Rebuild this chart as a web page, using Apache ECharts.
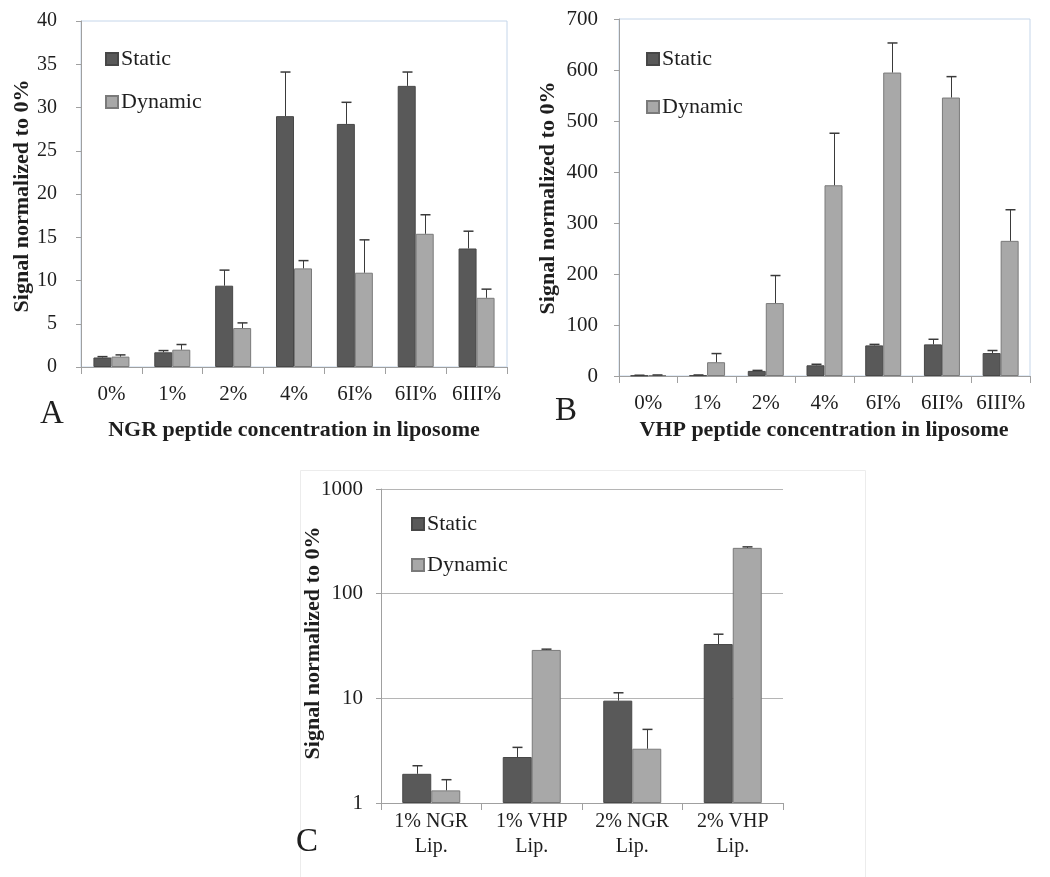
<!DOCTYPE html>
<html>
<head>
<meta charset="utf-8">
<script src="https://cdn.jsdelivr.net/npm/echarts@6/dist/echarts.min.js"></script>
<style>
html,body{margin:0;padding:0;background:#fff;}
#c{width:1050px;height:877px;}
</style>
</head>
<body>
<div id="c"></div>
<script>
// ---- Panel A: NGR ----
const catsA = ['0%', '1%', '2%', '4%', '6I%', '6II%', '6III%'];
const ngrStatic = [1.1, 1.7, 9.4, 29.0, 28.1, 32.5, 13.7];
const ngrStaticErr = [0.1, 0.2, 1.8, 5.1, 2.5, 1.6, 2.0];
const ngrDynamic = [1.2, 2.0, 4.5, 11.4, 10.9, 15.4, 8.0];
const ngrDynamicErr = [0.2, 0.6, 0.6, 0.9, 3.8, 2.2, 1.0];

// ---- Panel B: VHP ----
const catsB = ['0%', '1%', '2%', '4%', '6I%', '6II%', '6III%'];
const vhpStatic = [1, 1.5, 10, 21, 60, 62, 45];
const vhpStaticErr = [0.5, 0.5, 1, 2, 2, 10, 5];
const vhpDynamic = [1.5, 27, 143, 374, 595, 546, 265];
const vhpDynamicErr = [0.5, 17, 54, 102, 58, 41, 61];

// ---- Panel C: comparison (log) ----
const catsC = ['1% NGR\nLip.', '1% VHP\nLip.', '2% NGR\nLip.', '2% VHP\nLip.'];
const cmpStatic = [1.9, 2.75, 9.5, 33];
const cmpStaticErr = [0.37, 0.65, 1.8, 8];
const cmpDynamic = [1.32, 29, 3.3, 274];
const cmpDynamicErr = [0.35, 0.5, 1.75, 6];

const FONT = "'Liberation Serif', 'Times New Roman', serif";
const STATIC_COLOR = '#595959';
const DYN_COLOR = '#a8a8a8';
const AXIS_COLOR = '#a0a0a0';
const TXT = '#1e1e1e';

function barSeries(name, gi, vals, color, border, w) {
  return {
    name: name, type: 'bar', xAxisIndex: gi, yAxisIndex: gi,
    data: vals, barWidth: w, barGap: '0%',
    itemStyle: { color: color, borderColor: border, borderWidth: 1 },
    emphasis: { disabled: true }, silent: true, z: 2
  };
}
function errSeries(gi, cats, vals, errs, offset) {
  return {
    name: 'err', type: 'custom', xAxisIndex: gi, yAxisIndex: gi, z: 5, silent: true,
    data: cats.map((c, i) => [i, vals[i], errs[i]]),
    encode: { x: 0, y: 1 },
    renderItem: function (params, api) {
      const i = api.value(0), v = api.value(1), e = api.value(2);
      const p0 = api.coord([i, v]);
      const p1 = api.coord([i, v + e]);
      const x = Math.round(p0[0] + offset) + 0.5;
      return {
        type: 'group', children: [
          { type: 'line', shape: { x1: x, y1: p0[1], x2: x, y2: p1[1] }, style: { stroke: '#3a3a3a', lineWidth: 1 } },
          { type: 'line', shape: { x1: x - 5, y1: p1[1], x2: x + 5, y2: p1[1] }, style: { stroke: '#3a3a3a', lineWidth: 1.5 } }
        ]
      };
    }
  };
}
function catAxis(gi, cats, fs, margin) {
  return {
    type: 'category', gridIndex: gi, data: cats,
    axisLine: { lineStyle: { color: AXIS_COLOR, width: 1 } },
    axisTick: { show: true, length: 7, lineStyle: { color: AXIS_COLOR } },
    axisLabel: { fontFamily: FONT, fontSize: fs, color: TXT, margin: margin, interval: 0, lineHeight: 25 }
  };
}
function legendAt(left, top, gap) {
  return {
    left: left, top: top, orient: 'vertical', itemGap: gap,
    itemWidth: 12, itemHeight: 12, icon: 'rect', selectedMode: false,
    data: ['Static', 'Dynamic'],
    textStyle: { fontFamily: FONT, fontSize: 22, color: TXT, padding: [0, 0, 0, -2] }
  };
}
function txt(x, y, s, font, rot) {
  return {
    type: 'text', x: x, y: y, rotation: rot || 0, silent: true,
    style: { text: s, font: font, fill: TXT, align: 'center', verticalAlign: 'middle', textAlign: 'center', textVerticalAlign: 'middle' }
  };
}

const chart = echarts.init(document.getElementById('c'), null, { renderer: 'canvas' });
chart.setOption({
  animation: false,
  backgroundColor: '#fff',
  grid: [
    { left: 81, top: 21, width: 426, height: 346, show: true, borderColor: '#c5d6ea', borderWidth: 1, backgroundColor: 'transparent' },
    { left: 619, top: 19, width: 411, height: 357, show: true, borderColor: '#c5d6ea', borderWidth: 1, backgroundColor: 'transparent' },
    { left: 381, top: 489, width: 402, height: 314 }
  ],
  legend: [legendAt(100, 43, 21), legendAt(641, 43, 26), legendAt(406, 508, 19)],
  xAxis: [catAxis(0, catsA, 21, 15), catAxis(1, catsB, 21, 15), catAxis(2, catsC, 20, 6)],
  yAxis: [
    {
      type: 'value', gridIndex: 0, min: 0, max: 40, interval: 5,
      axisLine: { show: true, lineStyle: { color: AXIS_COLOR } },
      axisTick: { show: true, length: 5, lineStyle: { color: AXIS_COLOR } },
      splitLine: { show: false },
      axisLabel: { fontFamily: FONT, fontSize: 20, color: TXT, margin: 24 }
    },
    {
      type: 'value', gridIndex: 1, min: 0, max: 700, interval: 100,
      axisLine: { show: true, lineStyle: { color: AXIS_COLOR } },
      axisTick: { show: true, length: 5, lineStyle: { color: AXIS_COLOR } },
      splitLine: { show: false },
      axisLabel: { fontFamily: FONT, fontSize: 21, color: TXT, margin: 21 }
    },
    {
      type: 'log', gridIndex: 2, min: 1, max: 1000, logBase: 10,
      axisLine: { show: true, lineStyle: { color: AXIS_COLOR } },
      axisTick: { show: true, length: 5, lineStyle: { color: AXIS_COLOR } },
      splitLine: { show: true, lineStyle: { color: '#b5b5b5', width: 1 } },
      minorTick: { show: false },
      axisLabel: { fontFamily: FONT, fontSize: 21, color: TXT, margin: 18, formatter: function (v) { return String(Math.round(v)); } }
    }
  ],
  series: [
    barSeries('Static', 0, ngrStatic, STATIC_COLOR, '#474747', 18),
    barSeries('Dynamic', 0, ngrDynamic, DYN_COLOR, '#7a7a7a', 18),
    errSeries(0, catsA, ngrStatic, ngrStaticErr, -9),
    errSeries(0, catsA, ngrDynamic, ngrDynamicErr, 9),

    barSeries('Static', 1, vhpStatic, STATIC_COLOR, '#474747', 18),
    barSeries('Dynamic', 1, vhpDynamic, DYN_COLOR, '#7a7a7a', 18),
    errSeries(1, catsB, vhpStatic, vhpStaticErr, -9),
    errSeries(1, catsB, vhpDynamic, vhpDynamicErr, 9),

    barSeries('Static', 2, cmpStatic, STATIC_COLOR, '#474747', 29),
    barSeries('Dynamic', 2, cmpDynamic, DYN_COLOR, '#7a7a7a', 29),
    errSeries(2, catsC, cmpStatic, cmpStaticErr, -14.5),
    errSeries(2, catsC, cmpDynamic, cmpDynamicErr, 14.5)
  ],
  graphic: [
    { type: 'rect', silent: true, z: -1, shape: { x: 300.5, y: 470.5, width: 565, height: 420 }, style: { fill: 'none', stroke: '#ececec', lineWidth: 1 } },
    txt(22, 196, 'Signal normalized to 0%', 'bold 22px ' + FONT, Math.PI / 2),
    txt(548, 198, 'Signal normalized to 0%', 'bold 22px ' + FONT, Math.PI / 2),
    txt(313, 643, 'Signal normalized to 0%', 'bold 22px ' + FONT, Math.PI / 2),
    txt(294, 430, 'NGR peptide concentration in liposome', 'bold 22px ' + FONT),
    txt(824, 430, 'VHP peptide concentration in liposome', 'bold 22px ' + FONT),
    txt(52, 414, 'A', '33px ' + FONT),
    txt(566, 411, 'B', '33px ' + FONT),
    txt(307, 842, 'C', '33px ' + FONT)
  ]
});
</script>
</body>
</html>
